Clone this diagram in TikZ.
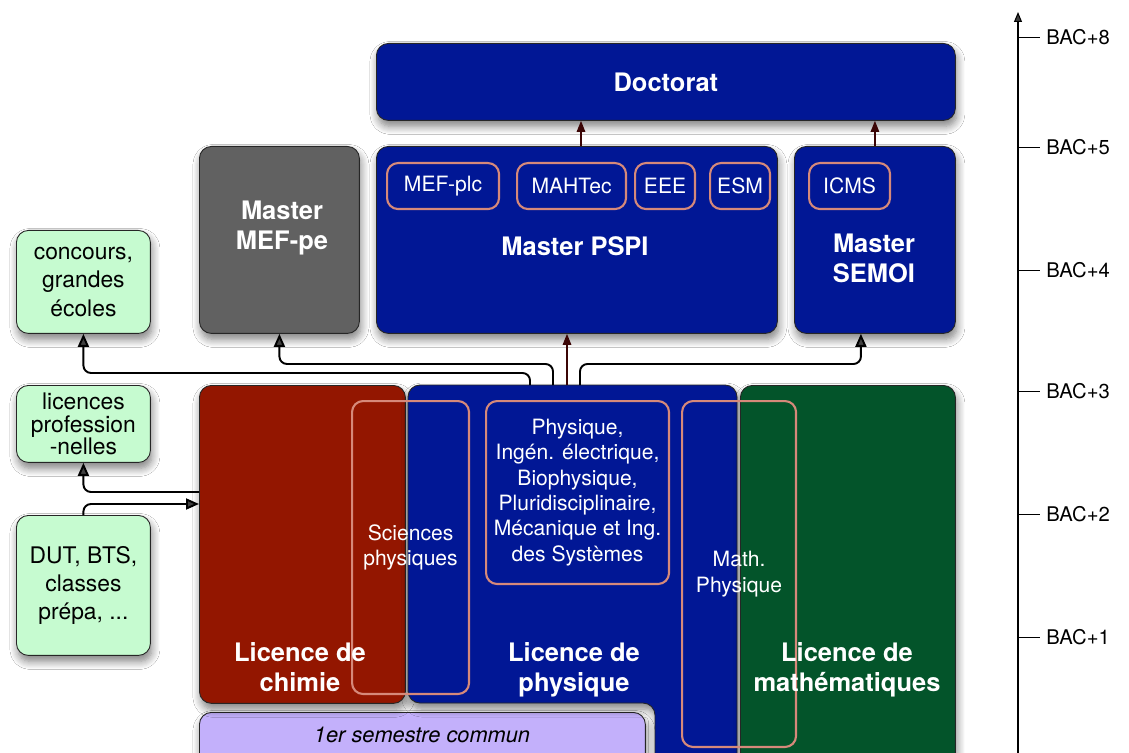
\documentclass[tikz,border=0pt]{standalone}
\usepackage{fontspec}
\setmainfont{TeX Gyre Heros}
\usepackage{tikz}
\usetikzlibrary{shapes.misc}
\usetikzlibrary{arrows.meta}
\usetikzlibrary{shadows.blur}
\definecolor{bleuL}{HTML}{011795}
\definecolor{rougeL}{HTML}{931600}
\definecolor{vertL}{HTML}{03542A}
\definecolor{grisM}{HTML}{616161}
\definecolor{vertclair}{HTML}{C6FBD0}
\definecolor{lavande}{HTML}{C3B0FB}
\definecolor{saumon}{HTML}{D6897A}
\definecolor{brunfleche}{HTML}{3B0505}

\begin{document}
\begin{tikzpicture}[x = 0.02cm, y = -0.02cm,
  box/.style = {draw = black!85, line width = 0.5pt, rounded corners = 0.24cm, anchor = north west, inner sep = 0,
    blur shadow = {shadow xshift = 0.3mm, shadow yshift = -1.2mm, shadow blur steps = 8, shadow opacity = 50, shadow blur radius = 1.6mm}},
  master/.style = {box, fill = bleuL},
  option/.style = {draw = saumon, line width = 1.2pt, rounded corners = 0.22cm, anchor = north west, inner sep = 0,
    text = white, font = \fontsize{12}{14.4}\selectfont, align = center},
  sortie/.style = {box, fill = vertclair, align = center, font = \fontsize{13}{16}\selectfont},
  titre/.style = {text = white, align = center, font = \bfseries\fontsize{14.5}{17}\selectfont},
  conn/.style = {line width = 1.1pt, rounded corners = 0.15cm, -{Triangle[length = 2.6mm, width = 2.2mm]}},
  monte/.style = {line width = 0.8pt, draw = brunfleche, -{Triangle[length = 2.2mm, width = 1.7mm]}}]
 \clip (0, 0) rectangle (1129, 753);
 \fill[white] (0, 0) rectangle (1129, 753);

 \node[master, minimum width = 11.58cm, minimum height = 1.54cm, titre] (doct) at (376, 43) {Doctorat};
 \node[box, fill = grisM, minimum width = 3.2cm, minimum height = 3.74cm] (mefpe) at (199, 146) {};
 \node[master, minimum width = 8.02cm, minimum height = 3.74cm] (pspi) at (376, 146) {};
 \node[master, minimum width = 3.22cm, minimum height = 3.74cm] (semoi) at (794, 146) {};
 \node[titre] (mefpelab) at (282, 228) {Master\\MEF-pe};
 \node[titre] (pspilab) at (575, 246) {Master PSPI};
 \node[titre] (semoilab) at (874, 258) {Master\\SEMOI};

 \node[option, minimum width = 2.24cm, minimum height = 0.92cm] (mefplc) at (386, 162) {MEF-plc};
 \node[option, minimum width = 2.18cm, minimum height = 0.92cm] (mahtec) at (516, 162) {MAHTec};
 \node[option, minimum width = 1.2cm, minimum height = 0.92cm] (eee) at (634, 162) {EEE};
 \node[option, minimum width = 1.2cm, minimum height = 0.92cm] (esm) at (709, 162) {ESM};
 \node[option, minimum width = 1.62cm, minimum height = 0.92cm] (icms) at (808, 162) {ICMS};

 \node[sortie, minimum width = 2.68cm, minimum height = 2.06cm] (conc) at (16, 230) {concours,\\grandes\\écoles};
 \node[sortie, minimum width = 2.68cm, minimum height = 1.54cm, font = \fontsize{13}{13}\selectfont] (lpro) at (16, 385) {licences\\profession\\-nelles};
 \node[sortie, minimum width = 2.68cm, minimum height = 2.8cm] (dut) at (16, 515) {DUT, BTS,\\classes\\prépa, ...};

 \node[box, fill = lavande, minimum width = 8.92cm, minimum height = 1.2cm] (sem) at (199, 712) {};
 \node[font = \itshape\fontsize{12.4}{15}\selectfont] (semlab) at (422, 735) {1er semestre commun};

 \node[box, fill = rougeL, minimum width = 4.12cm, minimum height = 6.36cm] (chim) at (199, 385) {};
 \filldraw[box, fill = bleuL] (408, 385) -- (737, 385) -- (737, 775) -- (655, 775) -- (655, 703) -- (408, 703) -- cycle;
 \node[box, fill = vertL, minimum width = 4.3cm, minimum height = 7.8cm] (math) at (740, 385) {};

 \node[option, minimum width = 2.34cm, minimum height = 5.86cm] (sci) at (351, 400) {Sciences\\physiques};
 \node[option, minimum width = 3.66cm, minimum height = 3.66cm] (liste) at (485, 400)
   {Physique,\\Ingén. électrique,\\Biophysique,\\Pluridisciplinaire,\\Mécanique et Ing.\\des Systèmes};
 \node[option, minimum width = 2.28cm, minimum height = 6.92cm] (mphy) at (681, 400) {Math.\\Physique};

 \node[titre] (chimlab) at (300, 667) {Licence de\\chimie};
 \node[titre] (physlab) at (574, 670) {Licence de\\physique};
 \node[titre] (mathlab) at (847, 670) {Licence de\\mathématiques};

 \coordinate (pa) at (530, 385);
 \coordinate (ja) at (530, 373);
 \coordinate (pb) at (553, 385);
 \coordinate (jb) at (553, 364);
 \coordinate (pc) at (567, 385);
 \coordinate (pd) at (580, 385);
 \coordinate (jd) at (580, 364);
 \coordinate (cl) at (199, 492);
 \coordinate (cd) at (199, 504);
 \coordinate (qa) at (581, 146);
 \draw[conn] (pa) -- (ja) -| (conc.south);
 \draw[conn] (pb) -- (jb) -| (mefpe.south);
 \draw[monte] (pc) -- (pc |- pspi.south);
 \draw[conn] (pd) -- (jd) -| ([xshift = -0.28cm]semoi.south);
 \draw[conn] (cl) -| (lpro.south);
 \draw[conn] (dut.north) |- (cd);
 \draw[monte] (qa) -- (qa |- doct.south);
 \draw[monte] (semoi.north) -- (semoi.north |- doct.south);

 \draw[line width = 0.6pt, -{Triangle[length = 2mm, width = 1.6mm]}] (1018, 753) -- (1018, 12);
 \foreach \y/\n in {37/8, 147/5, 270/4, 391/3, 514/2, 637/1}
   \draw[line width = 0.5pt] (1018, \y) -- (1040, \y) node[right, font = \fontsize{11.5}{14}\selectfont] (bac\n) {BAC+\n};
\end{tikzpicture}
\end{document}
